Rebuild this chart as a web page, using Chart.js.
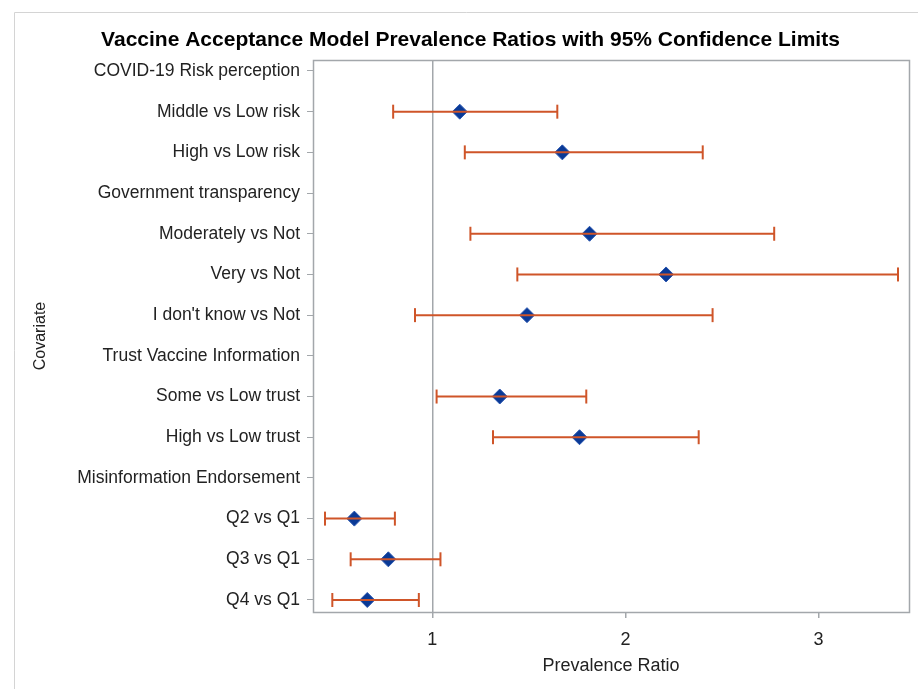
<!DOCTYPE html>
<html>
<head>
<meta charset="utf-8">
<script src="https://cdn.jsdelivr.net/npm/chart.js@4.4.0/dist/chart.umd.min.js"></script>
<style>
  html, body { margin: 0; padding: 0; background: #fff; }
  #wrap { width: 918px; height: 689px; }
</style>
</head>
<body>
<div id="wrap"><canvas id="chart"></canvas></div>
<script>
const covariates = [
  'COVID-19 Risk perception',
  'Middle vs Low risk',
  'High vs Low risk',
  'Government transparency',
  'Moderately vs Not',
  'Very vs Not',
  "I don't know vs Not",
  'Trust Vaccine Information',
  'Some vs Low trust',
  'High vs Low trust',
  'Misinformation Endorsement',
  'Q2 vs Q1',
  'Q3 vs Q1',
  'Q4 vs Q1'
];
// null = group header row, no estimate
const ratios      = [null, 1.142, 1.673, null, 1.814, 2.210, 1.490, null, 1.349, 1.762, null, 0.596, 0.772, 0.663];
const lowerLimits = [null, 0.797, 1.168, null, 1.197, 1.440, 0.910, null, 1.022, 1.314, null, 0.444, 0.577, 0.482];
const upperLimits = [null, 1.647, 2.400, null, 2.770, 3.411, 2.451, null, 1.797, 2.379, null, 0.806, 1.042, 0.930];
const xTicks = [1, 2, 3];

const FONT = '"Liberation Sans", Arial, sans-serif';
const AXIS_GRAY = '#a3a7ab';
const BAR_COLOR = '#cf5529';

const markerData = [];
ratios.forEach((r, i) => { if (r !== null) markerData.push({ x: r, y: i }); });

// one small line dataset per row for the confidence limits
const limitSets = [];
lowerLimits.forEach((lo, i) => {
  if (lo === null) return;
  limitSets.push({
    type: 'line',
    data: [{ x: lo, y: i }, { x: upperLimits[i], y: i }],
    borderColor: BAR_COLOR,
    borderWidth: 2,
    pointStyle: 'line',
    pointRotation: 90,
    pointRadius: 7,
    pointBorderColor: BAR_COLOR,
    pointBorderWidth: 2,
    order: 0
  });
});

const framePlugin = {
  id: 'frame',
  beforeDraw(chart) {
    const ctx = chart.ctx;
    ctx.save();
    ctx.strokeStyle = '#d4d4d4';
    ctx.lineWidth = 1;
    ctx.beginPath();
    ctx.moveTo(14.5, chart.height);
    ctx.lineTo(14.5, 12.5);
    ctx.lineTo(chart.width, 12.5);
    ctx.stroke();
    ctx.restore();
  },
  beforeDatasetsDraw(chart) {
    const a = chart.chartArea;
    const ctx = chart.ctx;
    ctx.save();
    ctx.strokeStyle = AXIS_GRAY;
    ctx.lineWidth = 1.5;
    ctx.strokeRect(Math.round(a.left) + 0.5, Math.round(a.top) + 0.5,
      Math.round(a.right - a.left), Math.round(a.bottom - a.top));
    ctx.restore();
  }
};

new Chart(document.getElementById('chart'), {
  type: 'scatter',
  data: {
    datasets: [
      ...limitSets,
      {
        type: 'scatter',
        data: markerData,
        pointStyle: 'rectRot',
        pointRadius: 7.5,
        backgroundColor: '#0a3a96',
        borderColor: '#2a56b0',
        borderWidth: 1,
        order: 1
      }
    ]
  },
  options: {
    responsive: true,
    maintainAspectRatio: false,
    animation: false,
    layout: { padding: { left: 31, right: 8, top: 0, bottom: 0 } },
    plugins: {
      legend: { display: false },
      tooltip: { enabled: false },
      title: {
        display: true,
        text: 'Vaccine Acceptance Model Prevalence Ratios with 95% Confidence Limits',
        color: '#000',
        font: { family: FONT, size: 21, weight: 'bold' },
        padding: { top: 27.4, bottom: 7.4 }
      }
    },
    scales: {
      x: {
        type: 'linear',
        min: 0.382,
        max: 3.468,
        afterBuildTicks: (s) => { s.ticks = xTicks.map(v => ({ value: v })); },
        afterFit: (s) => { s.height = 77; },
        ticks: {
          color: '#222',
          font: { family: FONT, size: 18 },
          padding: 11,
          callback: (v) => String(v)
        },
        grid: {
          drawOnChartArea: true,
          color: (c) => (c.tick && c.tick.value === 1 ? AXIS_GRAY : 'rgba(0,0,0,0)'),
          lineWidth: 1.5,
          tickColor: AXIS_GRAY,
          tickLength: 6
        },
        border: { display: false },
        title: {
          display: true,
          text: 'Prevalence Ratio',
          color: '#222',
          font: { family: FONT, size: 18 },
          padding: { top: 0, bottom: 12 }
        }
      },
      y: {
        type: 'linear',
        reverse: true,
        min: -0.27,
        max: 13.295,
        afterBuildTicks: (s) => { s.ticks = covariates.map((_, i) => ({ value: i })); },
        afterFit: (s) => { s.width = 282; },
        ticks: {
          color: '#222',
          font: { family: FONT, size: 17.5 },
          padding: 7,
          callback: (v) => covariates[v]
        },
        grid: {
          drawOnChartArea: false,
          tickColor: AXIS_GRAY,
          tickLength: 6
        },
        border: { display: false },
        title: {
          display: true,
          text: 'Covariate',
          color: '#222',
          font: { family: FONT, size: 16 },
          padding: { top: 0, bottom: 0 }
        }
      }
    }
  },
  plugins: [framePlugin]
});
</script>
</body>
</html>
